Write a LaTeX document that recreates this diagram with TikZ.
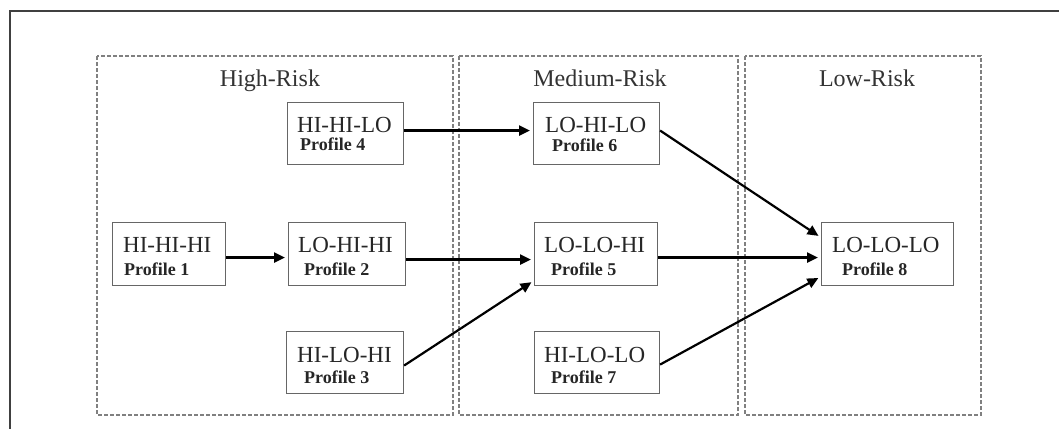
\documentclass[tikz,border=0pt]{standalone}
\usepackage{fontspec}
\setmainfont{Liberation Serif}
\usetikzlibrary{arrows.meta}
\begin{document}
\begin{tikzpicture}[x=1pt,y=-1pt,
  frame/.style={draw=black!75, line width=1.5pt},
  zone/.style={draw=black!50, line width=1.6pt, dash pattern=on 4pt off 2pt},
  zonetitle/.style={font=\fontsize{24}{28}\selectfont, text=black!80, anchor=base, inner sep=0pt},
  profbox/.style={draw=black!60, line width=1.1pt, inner sep=0pt, anchor=north west},
  codetext/.style={font=\fontsize{23}{27}\selectfont, text=black!85, anchor=base west, inner sep=0pt},
  proftext/.style={font=\bfseries\fontsize{18}{21}\selectfont, text=black!85, anchor=base west, inner sep=0pt},
  flow/.style={draw=black, line width=2.2pt, shorten >=3pt, -{Triangle[length=11pt,width=10pt]}}
]
\useasboundingbox (0,0) rectangle (1059,429);

% outer frame (top and left edges)
\coordinate (fr) at (1059,11);
\coordinate (fc) at (10,11);
\coordinate (fb) at (10,429);
\draw[frame] (fr) -- (fc) -- (fb);

% risk zones
\draw[zone] (97,56) rectangle (453,415);
\draw[zone] (459,56) rectangle (738,415);
\draw[zone] (745,56) rectangle (981,415);
\node[zonetitle] (zhigh) at (270,86) {High-Risk};
\node[zonetitle] (zmed) at (600,86) {Medium-Risk};
\node[zonetitle] (zlow) at (867,86) {Low-Risk};

% profile boxes
\node[profbox, minimum width=116pt, minimum height=62pt] (p4) at (287,102) {};
\node[codetext] (p4c) at (297,132) {HI-HI-LO};
\node[proftext] (p4p) at (300,150) {Profile 4};

\node[profbox, minimum width=126pt, minimum height=62pt] (p6) at (533,102) {};
\node[codetext] (p6c) at (545,132) {LO-HI-LO};
\node[proftext] (p6p) at (552,151) {Profile 6};

\node[profbox, minimum width=113pt, minimum height=63pt] (p1) at (112,222) {};
\node[codetext] (p1c) at (123,252) {HI-HI-HI};
\node[proftext] (p1p) at (124,275) {Profile 1};

\node[profbox, minimum width=117pt, minimum height=63pt] (p2) at (288,222) {};
\node[codetext] (p2c) at (298,252) {LO-HI-HI};
\node[proftext] (p2p) at (304,275) {Profile 2};

\node[profbox, minimum width=117pt, minimum height=62pt] (p3) at (286,331) {};
\node[codetext] (p3c) at (297,362) {HI-LO-HI};
\node[proftext] (p3p) at (304,383) {Profile 3};

\node[profbox, minimum width=123pt, minimum height=63pt] (p5) at (534,222) {};
\node[codetext] (p5c) at (544,252) {LO-LO-HI};
\node[proftext] (p5p) at (551,275) {Profile 5};

\node[profbox, minimum width=125pt, minimum height=62pt] (p7) at (534,331) {};
\node[codetext] (p7c) at (544,362) {HI-LO-LO};
\node[proftext] (p7p) at (551,383) {Profile 7};

\node[profbox, minimum width=132pt, minimum height=63pt] (p8) at (821,222) {};
\node[codetext] (p8c) at (832,252) {LO-LO-LO};
\node[proftext] (p8p) at (842,275) {Profile 8};

% transitions
\draw[flow] ([yshift=3pt]p4.east) -- ([yshift=3pt]p6.west);
\draw[flow] ([yshift=-3.5pt]p1.east) -- ([yshift=-3.5pt]p2.west);
\draw[flow] ([yshift=-5.5pt]p2.east) -- ([yshift=-5.5pt]p5.west);
\draw[flow] ([yshift=-3pt]p3.east) -- ([yshift=-26.5pt]p5.west);
\draw[flow] ([yshift=3pt]p6.east) -- ([yshift=16.5pt]p8.west);
\draw[flow] ([yshift=-3.5pt]p5.east) -- ([yshift=-3.5pt]p8.west);
\draw[flow] ([yshift=-2pt]p7.east) -- ([yshift=-22.5pt]p8.west);
\end{tikzpicture}
\end{document}
